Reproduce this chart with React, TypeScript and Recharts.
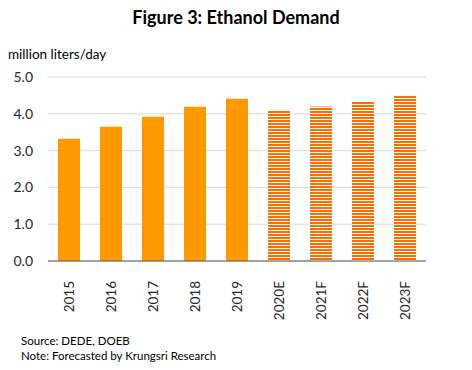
import React from "react";
import { Bar, BarChart, CartesianGrid, Cell, XAxis, YAxis } from "recharts";

const years = ["2015", "2016", "2017", "2018", "2019", "2020E", "2021F", "2022F", "2023F"];
const demand = [3.32, 3.65, 3.92, 4.19, 4.41, 4.08, 4.2, 4.33, 4.5];
const forecast = [false, false, false, false, false, true, true, true, true];
const yTicks = [0, 1, 2, 3, 4, 5];

const data = years.map((year, i) => ({ year, demand: demand[i], forecast: forecast[i] }));

const FONT = "Lato, 'Open Sans', sans-serif";

function YearTick({ x, y, payload }: any) {
  return (
    <text
      x={x}
      y={y + 12}
      dy="0.36em"
      transform={`rotate(-90, ${x}, ${y + 12})`}
      textAnchor="end"
      fill="#262626"
      fontSize={13.5}
      fontFamily={FONT}
    >
      {payload.value}
    </text>
  );
}

export default function App() {
  return (
    <div
      style={{
        position: "absolute",
        left: 0,
        top: 0,
        width: 472,
        height: 370,
        background: "#fff",
        fontFamily: FONT,
        color: "#000",
      }}
    >
      <div
        style={{
          position: "absolute",
          top: 6,
          left: 0,
          width: 472,
          textAlign: "center",
          fontWeight: 700,
          fontSize: 18,
        }}
      >
        Figure 3: Ethanol Demand
      </div>
      <div style={{ position: "absolute", top: 46, left: 8, fontSize: 13.5 }}>million liters/day</div>
      <BarChart
        width={472}
        height={370}
        data={data}
        margin={{ top: 77, right: 46, bottom: 49, left: 0 }}
        barSize={22}
      >
        <defs>
          <pattern id="hatch" width="6" height="3" patternUnits="userSpaceOnUse">
            <rect width="6" height="3" fill="#ffffff" />
            <rect width="6" height="2" fill="#ff6d00" />
          </pattern>
        </defs>
        <CartesianGrid stroke="#d9d9d9" vertical={false} />
        <XAxis
          dataKey="year"
          height={60}
          interval={0}
          stroke="#595959"
          tickLine={false}
          tick={<YearTick />}
        />
        <YAxis
          width={48}
          domain={[0, 5]}
          ticks={yTicks}
          axisLine={false}
          tickLine={false}
          tickSize={0}
          tickMargin={15}
          tickFormatter={(v: number) => v.toFixed(1)}
          tick={{ fill: "#262626", fontSize: 14, fontFamily: FONT }}
        />
        <Bar dataKey="demand" isAnimationActive={false}>
          {data.map((d) => (
            <Cell key={d.year} fill={d.forecast ? "url(#hatch)" : "#ff9900"} />
          ))}
        </Bar>
      </BarChart>
      <div style={{ position: "absolute", top: 333, left: 21, fontSize: 11.5, lineHeight: "15px" }}>
        Source: DEDE, DOEB
        <br />
        Note: Forecasted by Krungsri Research
      </div>
    </div>
  );
}
